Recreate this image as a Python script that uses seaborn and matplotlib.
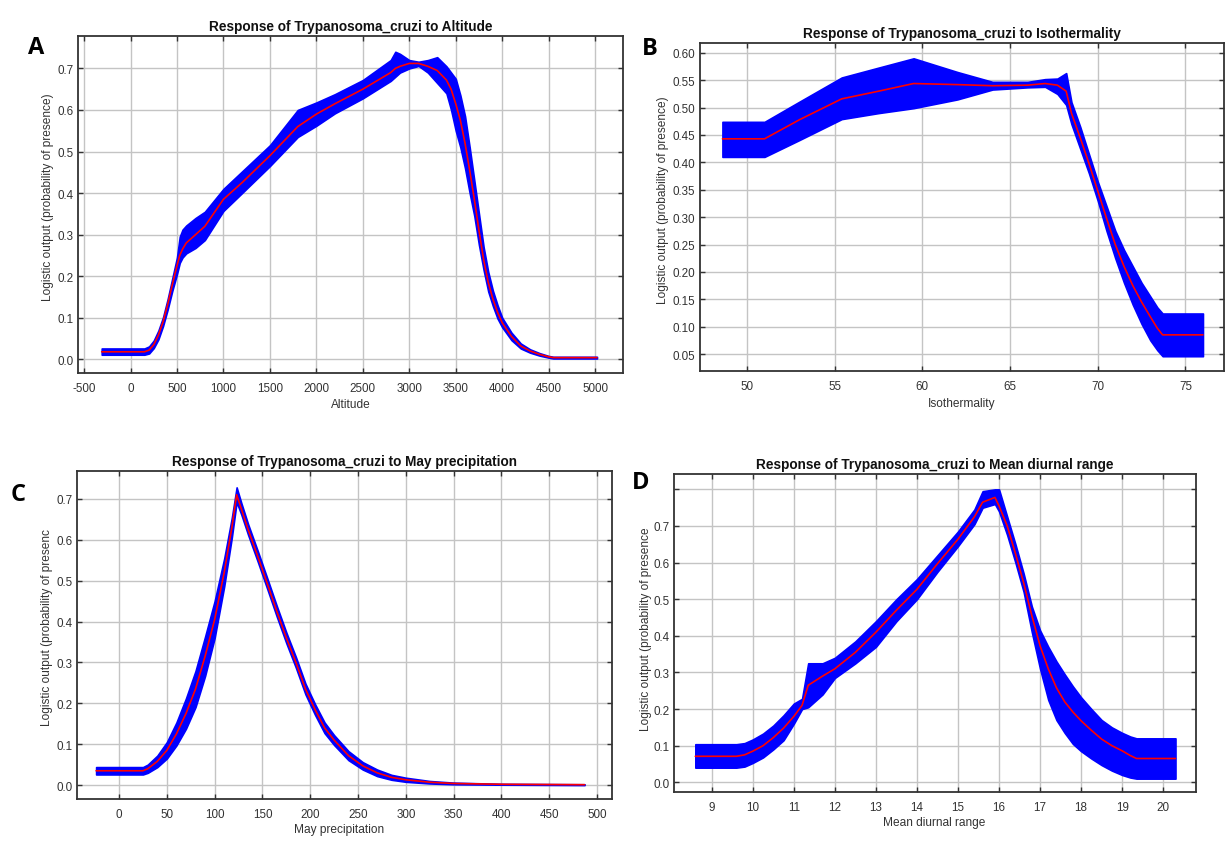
import numpy as np
import pandas as pd
import matplotlib
matplotlib.use("Agg")
import matplotlib.pyplot as plt
import seaborn as sns

# ---------------- data ----------------
alt_x = [-310, 150, 200, 250, 300, 350, 400, 450, 500, 530, 560, 600, 700, 800, 1000, 1200, 1500,
         1800, 2000, 2200, 2500, 2800, 2850, 2900, 3000, 3100, 3200, 3300, 3400, 3450, 3500, 3550,
         3600, 3650, 3700, 3750, 3800, 3850, 3900, 3950, 4000, 4100, 4200, 4300, 4400, 4500, 4550, 5020]
alt_mean = [0.018, 0.018, 0.022, 0.035, 0.058, 0.09, 0.132, 0.18, 0.225, 0.25, 0.265, 0.28, 0.30, 0.32,
            0.385, 0.425, 0.49, 0.56, 0.59, 0.615, 0.65, 0.69, 0.70, 0.705, 0.712, 0.712, 0.705,
            0.695, 0.672, 0.65, 0.615, 0.575, 0.52, 0.455, 0.385, 0.31, 0.24, 0.185, 0.145, 0.113,
            0.088, 0.055, 0.032, 0.02, 0.012, 0.006, 0.004, 0.004]
alt_up = [0.026, 0.026, 0.031, 0.045, 0.069, 0.101, 0.145, 0.195, 0.245, 0.295, 0.312, 0.322, 0.34, 0.355,
          0.41, 0.452, 0.515, 0.60, 0.618, 0.638, 0.672, 0.72, 0.74, 0.735, 0.72, 0.716, 0.72,
          0.727, 0.705, 0.69, 0.675, 0.635, 0.585, 0.51, 0.43, 0.35, 0.27, 0.21, 0.165, 0.13,
          0.10, 0.064, 0.038, 0.024, 0.015, 0.008, 0.006, 0.006]
alt_lo = [0.011, 0.011, 0.014, 0.027, 0.048, 0.08, 0.12, 0.165, 0.205, 0.232, 0.245, 0.255, 0.268, 0.287,
          0.357, 0.4, 0.465, 0.535, 0.562, 0.592, 0.628, 0.67, 0.68, 0.69, 0.70, 0.706, 0.69,
          0.665, 0.64, 0.60, 0.55, 0.51, 0.46, 0.40, 0.345, 0.275, 0.215, 0.163, 0.128, 0.098,
          0.077, 0.046, 0.026, 0.016, 0.009, 0.004, 0.002, 0.002]

iso_x = [48.6, 51.0, 53.0, 55.4, 57.5, 59.5, 62.0, 64.0, 66.0, 67.0, 67.7, 68.2, 68.5, 69.0, 69.5,
         70.0, 70.5, 71.0, 71.5, 72.0, 72.5, 73.0, 73.4, 73.7, 76.0]
iso_mean = [0.443, 0.443, 0.478, 0.516, 0.53, 0.544, 0.542, 0.54, 0.541, 0.544, 0.541, 0.53, 0.49,
            0.445, 0.398, 0.348, 0.298, 0.25, 0.21, 0.175, 0.145, 0.118, 0.097, 0.085, 0.085]
iso_up = [0.474, 0.474, 0.511, 0.555, 0.573, 0.59, 0.565, 0.547, 0.547, 0.552, 0.553, 0.563, 0.51,
          0.465, 0.415, 0.365, 0.32, 0.275, 0.24, 0.21, 0.18, 0.155, 0.135, 0.124, 0.124]
iso_lo = [0.41, 0.41, 0.441, 0.479, 0.49, 0.499, 0.515, 0.533, 0.537, 0.538, 0.525, 0.505, 0.47,
          0.425, 0.38, 0.33, 0.275, 0.225, 0.18, 0.14, 0.105, 0.075, 0.057, 0.046, 0.046]

may_x = [-24, 25, 30, 40, 50, 60, 70, 80, 90, 100, 110, 118, 123, 128, 135, 145, 155, 165, 175,
         185, 195, 205, 215, 225, 240, 255, 270, 285, 300, 325, 350, 400, 487]
may_mean = [0.035, 0.035, 0.04, 0.058, 0.085, 0.125, 0.175, 0.235, 0.315, 0.405, 0.52, 0.63, 0.71,
            0.675, 0.625, 0.56, 0.493, 0.425, 0.36, 0.30, 0.235, 0.185, 0.14, 0.11, 0.072, 0.047,
            0.03, 0.019, 0.013, 0.007, 0.004, 0.002, 0.001]
may_sd = [0.009, 0.009, 0.01, 0.014, 0.02, 0.028, 0.037, 0.044, 0.048, 0.045, 0.034, 0.024, 0.018,
          0.014, 0.013, 0.013, 0.013, 0.013, 0.013, 0.013, 0.013, 0.013, 0.013, 0.012, 0.011,
          0.009, 0.008, 0.006, 0.005, 0.003, 0.002, 0.001, 0.001]

mdr_x = [8.6, 9.6, 9.8, 10.0, 10.25, 10.5, 10.75, 11.0, 11.2, 11.35, 11.7, 12.0, 12.5, 13.0, 13.5,
         14.0, 14.5, 15.0, 15.4, 15.6, 15.9, 16.0, 16.2, 16.4, 16.6, 16.8, 17.0, 17.2, 17.4, 17.6,
         17.8, 18.0, 18.25, 18.5, 18.75, 19.0, 19.2, 19.35, 20.3]
mdr_mean = [0.071, 0.071, 0.075, 0.085, 0.10, 0.122, 0.148, 0.18, 0.21, 0.265, 0.29, 0.31, 0.355,
            0.41, 0.47, 0.527, 0.597, 0.664, 0.725, 0.765, 0.778, 0.755, 0.70, 0.625, 0.545, 0.455,
            0.373, 0.31, 0.258, 0.22, 0.192, 0.168, 0.142, 0.118, 0.10, 0.086, 0.073, 0.065, 0.065]
mdr_up = [0.104, 0.104, 0.107, 0.117, 0.133, 0.155, 0.183, 0.215, 0.228, 0.325, 0.325, 0.34, 0.385,
          0.44, 0.50, 0.555, 0.62, 0.685, 0.745, 0.795, 0.80, 0.80, 0.725, 0.65, 0.57, 0.48,
          0.415, 0.37, 0.33, 0.295, 0.262, 0.232, 0.20, 0.17, 0.15, 0.135, 0.125, 0.12, 0.12]
mdr_lo = [0.04, 0.04, 0.043, 0.053, 0.068, 0.09, 0.115, 0.16, 0.20, 0.205, 0.24, 0.285, 0.325,
          0.37, 0.44, 0.50, 0.575, 0.645, 0.705, 0.75, 0.76, 0.74, 0.675, 0.60, 0.52, 0.41,
          0.31, 0.225, 0.17, 0.135, 0.105, 0.085, 0.065, 0.047, 0.032, 0.02, 0.013, 0.01, 0.01]

titles = ["Response of Trypanosoma_cruzi to Altitude",
          "Response of Trypanosoma_cruzi to Isothermality",
          "Response of Trypanosoma_cruzi to May precipitation",
          "Response of Trypanosoma_cruzi to Mean diurnal range"]
xlabels = ["Altitude", "Isothermality", "May precipitation", "Mean diurnal range"]
ylabels = ["Logistic output (probability of presence)",
           "Logistic output (probability of presence)",
           "Logistic output (probability of presenc",
           "Logistic output (probability of presence"]
letters = ["A", "B", "C", "D"]

# ---------------- style ----------------
sns.set_theme(style="whitegrid")
plt.rcParams["font.family"] = ["Liberation Sans", "DejaVu Sans"]

W, H = 1225, 845
fig = plt.figure(figsize=(W / 100, H / 100), dpi=100)
fig.patch.set_facecolor("white")


def px_rect(l, t, r, b):
    return [l / W, 1 - b / H, (r - l) / W, (b - t) / H]


may_up = [m + s for m, s in zip(may_mean, may_sd)]
may_lo = [m - s for m, s in zip(may_mean, may_sd)]

panels = [
    dict(x=alt_x, m=alt_mean, u=alt_up, l=alt_lo, rect=px_rect(78, 37, 623, 374),
         xlim=(-565, 5300), ylim=(-0.033, 0.778), xticks=np.arange(-500, 5001, 500),
         yticks=np.arange(0, 0.71, 0.1), yfmt="{:.1f}", ylc=(-0.044, 0.525), xlc=(0.5, -0.074),
         letter=(36, 48)),
    dict(x=iso_x, m=iso_mean, u=iso_up, l=iso_lo, rect=px_rect(700, 44, 1224, 372),
         xlim=(47.32, 77.2), ylim=(0.019, 0.618), xticks=np.arange(50, 76, 5),
         yticks=np.arange(0.05, 0.601, 0.05), yfmt="{:.2f}", ylc=(-0.059, 0.524), xlc=(0.5, -0.079),
         letter=(650, 49)),
    dict(x=may_x, m=may_mean, u=may_up, l=may_lo, rect=px_rect(77, 472, 612, 800),
         xlim=(-44, 515.7), ylim=(-0.034, 0.768), xticks=np.arange(0, 501, 50),
         yticks=np.arange(0, 0.71, 0.1), yfmt="{:.1f}", ylc=(-0.045, 0.527), xlc=(0.49, -0.073),
         letter=(18, 495)),
    dict(x=mdr_x, m=mdr_mean, u=mdr_up, l=mdr_lo, rect=px_rect(674, 475, 1196, 793),
         xlim=(8.08, 20.8), ylim=(-0.0265, 0.842), xticks=np.arange(9, 21, 1),
         yticks=np.arange(0, 0.81, 0.1), yfmt="{:.1f}", ylc=(-0.043, 0.516), xlc=(0.498, -0.075),
         letter=(641, 483)),
]

for i, p in enumerate(panels):
    ax = fig.add_axes(p["rect"])
    ax.set_facecolor("white")
    df = pd.DataFrame({"x": p["x"], "mean": p["m"], "up": p["u"], "lo": p["l"]})
    ax.fill_between(df["x"], df["lo"], df["up"], color="#0000ff", edgecolor="#0000ff",
                    linewidth=1.2, zorder=2)
    sns.lineplot(data=df, x="x", y="mean", color="#ff0000", linewidth=1.2, ax=ax,
                 zorder=3, estimator=None, sort=False)
    ax.set_xlim(*p["xlim"])
    ax.set_ylim(*p["ylim"])
    ax.set_xticks(p["xticks"])
    ax.set_xticklabels([f"{int(v)}" for v in p["xticks"]])
    ax.set_yticks(p["yticks"])
    labs = [p["yfmt"].format(v) for v in p["yticks"]]
    if i == 3:
        labs[-1] = ""
    ax.set_yticklabels(labs)
    ax.grid(True, color="#c4c4c4", linewidth=1.0, zorder=0)
    ax.set_axisbelow(True)
    for s in ax.spines.values():
        s.set_visible(True)
        s.set_color("#333333")
        s.set_linewidth(1.3)
    ax.tick_params(axis="both", which="major", direction="in", length=3.5, width=1.0,
                   color="#333333", labelcolor="#333333", labelsize=8.4,
                   top=True, right=True, bottom=True, left=True)
    ax.tick_params(axis="x", pad=6.5)
    ax.tick_params(axis="y", pad=3.5)
    ax.set_title(titles[i], fontsize=9.8, fontweight="bold", color="#111111", pad=4.5)
    ax.set_xlabel(xlabels[i], fontsize=8.6, color="#333333")
    ax.set_ylabel(ylabels[i], fontsize=8.6, color="#333333")
    ax.xaxis.set_label_coords(*p["xlc"])
    ax.yaxis.set_label_coords(*p["ylc"])
    lx, ly = p["letter"]
    fig.text(lx / W, 1 - ly / H, letters[i], fontsize=17, fontweight="bold",
             family=["Open Sans", "DejaVu Sans"], ha="center", va="center", color="black")

fig.savefig("out.png", dpi=100, facecolor="white")
